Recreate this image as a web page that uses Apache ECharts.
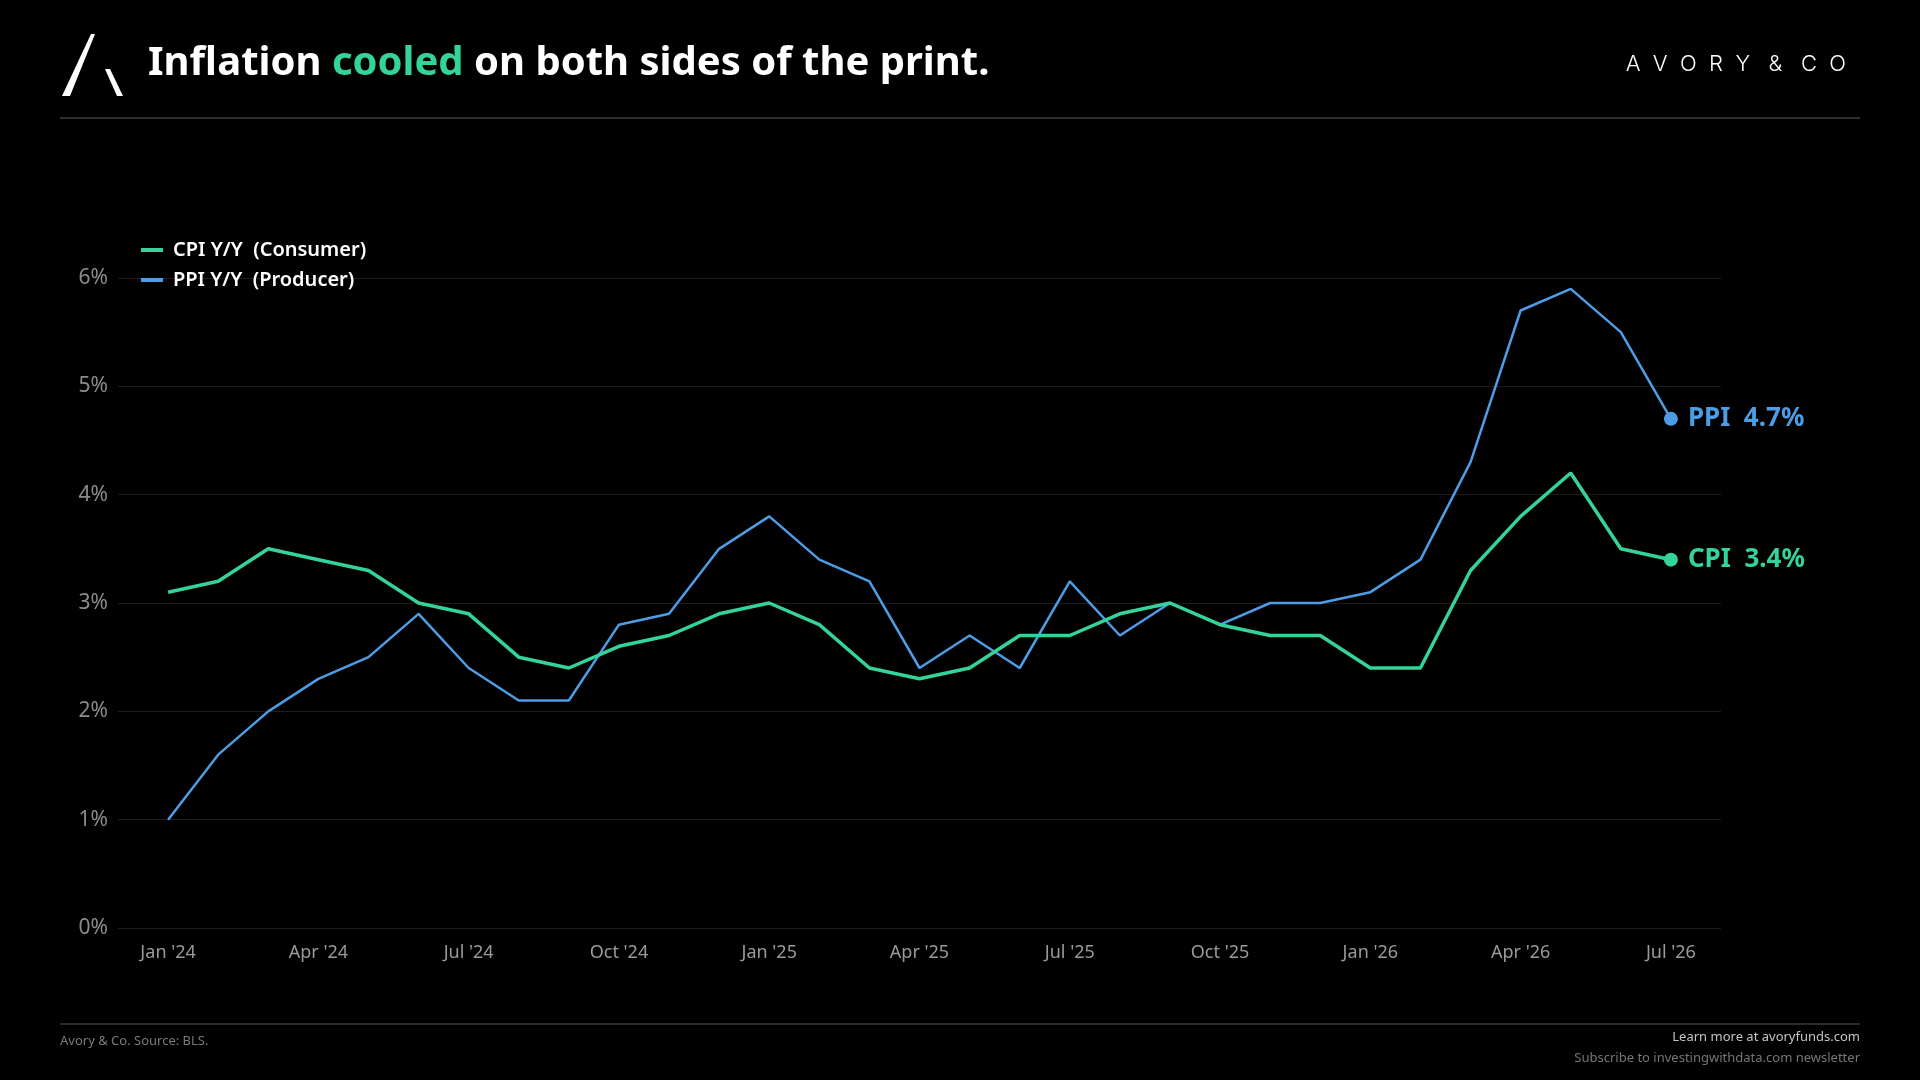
<!DOCTYPE html>
<html>
<head>
<meta charset="utf-8">
<title>Inflation cooled on both sides of the print</title>
<script src="https://cdn.jsdelivr.net/npm/echarts@6/dist/echarts.min.js"></script>
<style>
    html, body { margin: 0; padding: 0; background: #000; }
    #chart { width: 1920px; height: 1080px; }
</style>
</head>
<body>
<div id="chart"></div>
<script>
"use strict";

// monthly categories, Jan '24 .. Jul '26
var months = [
    "Jan '24", "Feb '24", "Mar '24", "Apr '24", "May '24", "Jun '24",
    "Jul '24", "Aug '24", "Sep '24", "Oct '24", "Nov '24", "Dec '24",
    "Jan '25", "Feb '25", "Mar '25", "Apr '25", "May '25", "Jun '25",
    "Jul '25", "Aug '25", "Sep '25", "Oct '25", "Nov '25", "Dec '25",
    "Jan '26", "Feb '26", "Mar '26", "Apr '26", "May '26", "Jun '26",
    "Jul '26"
];

var cpi = [3.1, 3.2, 3.5, 3.4, 3.3, 3.0, 2.9, 2.5, 2.4, 2.6, 2.7, 2.9,
           3.0, 2.8, 2.4, 2.3, 2.4, 2.7, 2.7, 2.9, 3.0, 2.8, 2.7, 2.7,
           2.4, 2.4, 3.3, 3.8, 4.2, 3.5, 3.4];

var ppi = [1.0, 1.6, 2.0, 2.3, 2.5, 2.9, 2.4, 2.1, 2.1, 2.8, 2.9, 3.5,
           3.8, 3.4, 3.2, 2.4, 2.7, 2.4, 3.2, 2.7, 3.0, 2.8, 3.0, 3.0,
           3.1, 3.4, 4.3, 5.7, 5.9, 5.5, 4.7];

var seriesNames = ['CPI Y/Y  (Consumer)', 'PPI Y/Y  (Producer)'];
var shortNames = ['CPI', 'PPI'];
var yTicks = [0, 1, 2, 3, 4, 5, 6];

var GREEN = '#34d399';
var BLUE = '#4d9de6';
var FONT = '"Noto Sans", "Open Sans", sans-serif';

// one empty slot either side so the lines sit inside the gridlines
var categories = [''].concat(months).concat(['']);

function buildData(values, shortName, color) {
    var out = ['-'];
    values.forEach(function(v, i) {
        if (i === values.length - 1) {
            out.push({
                value: v,
                label: {
                    show: true,
                    position: 'right',
                    distance: 10,
                    color: color,
                    fontFamily: FONT,
                    fontSize: 26,
                    fontWeight: 'bold',
                    formatter: shortName + '  ' + v.toFixed(1) + '%'
                }
            });
        } else {
            out.push(v);
        }
    });
    return out;
}

function endDotSize(values) {
    return function(val, params) {
        return params.dataIndex === values.length ? 14 : 0;
    };
}

var chart = echarts.init(document.getElementById('chart'), null, { renderer: 'canvas' });

var option = {
    backgroundColor: '#000',
    animation: false,

    // header, rules, footer
    graphic: [
        { type: 'polygon', shape: { points: [[62, 96], [70, 96], [95, 34], [91, 34]] }, style: { fill: '#fff' } },
        { type: 'polygon', shape: { points: [[105, 69], [110, 69], [123, 96], [117, 96]] }, style: { fill: '#fff' } },
        {
            type: 'text', left: 148, top: 44,
            style: {
                text: '{a|Inflation }{b|cooled}{a| on both sides of the print.}',
                rich: {
                    a: { fill: '#fff', fontSize: 40, fontWeight: 'bold', fontFamily: FONT },
                    b: { fill: GREEN, fontSize: 40, fontWeight: 'bold', fontFamily: FONT }
                }
            }
        },
        {
            type: 'text', right: 74, top: 53,
            style: {
                text: 'A  V  O  R  Y   &   C  O',
                fill: '#fff', fontSize: 22, fontWeight: 300, fontFamily: 'Inter, "Noto Sans", sans-serif'
            }
        },
        { type: 'line', shape: { x1: 60, y1: 118, x2: 1860, y2: 118 }, style: { stroke: '#2e2e2e', lineWidth: 2 } },
        { type: 'line', shape: { x1: 60, y1: 1024, x2: 1860, y2: 1024 }, style: { stroke: '#2a2a2a', lineWidth: 2 } },
        {
            type: 'text', left: 60, top: 1035,
            style: { text: 'Avory & Co. Source: BLS.', fill: '#7a7a7a', fontSize: 13, fontFamily: FONT }
        },
        {
            type: 'text', right: 60, top: 1031,
            style: { text: 'Learn more at avoryfunds.com', fill: '#c4c4c4', fontSize: 13, fontFamily: FONT }
        },
        {
            type: 'text', right: 60, top: 1052,
            style: { text: 'Subscribe to investingwithdata.com newsletter', fill: '#767676', fontSize: 13, fontFamily: FONT }
        }
    ],

    legend: {
        orient: 'vertical',
        left: 136,
        top: 235,
        itemGap: 10,
        itemWidth: 22,
        itemHeight: 4,
        icon: 'rect',
        selectedMode: false,
        textStyle: { color: '#fff', fontSize: 20, fontWeight: 600, fontFamily: FONT, padding: [0, 0, 0, 5] },
        data: seriesNames
    },

    grid: { left: 118, right: 199, top: 278, bottom: 152, containLabel: false },

    xAxis: {
        type: 'category',
        boundaryGap: false,
        data: categories,
        axisLine: { show: false },
        axisTick: { show: false },
        splitLine: { show: false },
        axisLabel: {
            color: '#9a9a9a',
            fontSize: 18,
            fontFamily: FONT,
            margin: 16,
            interval: function(idx, value) {
                return /^(Jan|Apr|Jul|Oct)/.test(value);
            }
        }
    },

    yAxis: {
        type: 'value',
        min: yTicks[0],
        max: yTicks[yTicks.length - 1],
        interval: 1,
        axisLine: { show: false },
        axisTick: { show: false },
        splitLine: { lineStyle: { color: '#1c1c1c', width: 1 } },
        axisLabel: {
            color: '#8c8c8c',
            fontSize: 21,
            fontFamily: FONT,
            margin: 10,
            formatter: '{value}%'
        }
    },

    series: [
        {
            name: seriesNames[0],
            type: 'line',
            data: buildData(cpi, shortNames[0], GREEN),
            color: GREEN,
            lineStyle: { width: 3.5, color: GREEN },
            symbol: 'circle',
            showAllSymbol: true,
            symbolSize: endDotSize(cpi),
            itemStyle: { color: GREEN },
            emphasis: { disabled: true },
            z: 3
        },
        {
            name: seriesNames[1],
            type: 'line',
            data: buildData(ppi, shortNames[1], BLUE),
            color: BLUE,
            lineStyle: { width: 2.5, color: BLUE },
            symbol: 'circle',
            showAllSymbol: true,
            symbolSize: endDotSize(ppi),
            itemStyle: { color: BLUE },
            emphasis: { disabled: true },
            z: 2
        }
    ]
};

chart.setOption(option);
</script>
</body>
</html>
